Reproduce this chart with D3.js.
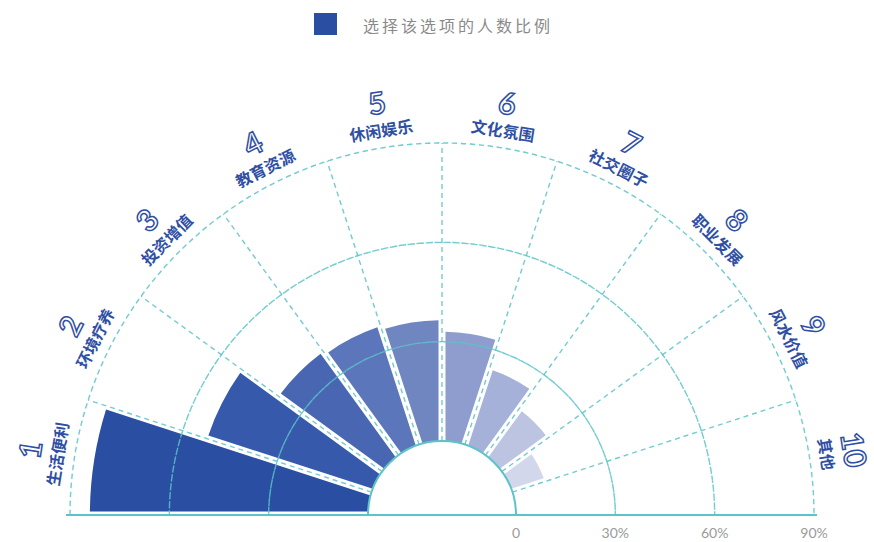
<!DOCTYPE html>
<html>
<head>
<meta charset="utf-8">
<script src="https://cdn.jsdelivr.net/npm/d3@7"></script>
<style>
  html, body { margin: 0; padding: 0; background: #ffffff; }
  svg { display: block; }
</style>
</head>
<body>
<svg id="chart" width="874" height="542"></svg>
<script>
const categories = ['生活便利', '环境疗养', '投资增值', '教育资源', '休闲娱乐', '文化氛围', '社交圈子', '职业发展', '风水价值', '其他'];
const categoryNumbers = ['1', '2', '3', '4', '5', '6', '7', '8', '9', '10'];
const values = [84, 52.2, 38.6, 37.6, 36.5, 33, 24, 17.2, 10.3, 0];
const barColors = ['#2a4ea2', '#3759ab', '#4866b2', '#5b76ba', '#7086c1', '#8e9dcd', '#a5b1d8', '#bcc4e2', '#d2d7eb', '#e4e7f2'];
const tickValues = [0, 30, 60, 90];
const tickLabels = ['0', '30%', '60%', '90%'];
const legendLabel = '选择该选项的人数比例';

const svg = d3.select('#chart');
const cx = 442, cy = 515;
const innerR = 74, outerR = 372;
const teal = '#5cc3c8';
const labelBlue = '#2f4fa3';

const angle = d3.scaleBand().domain(categories).range([-Math.PI / 2, Math.PI / 2]).padding(0);
const radius = d3.scaleLinear().domain([0, 90]).range([innerR, outerR]);

const g = svg.append('g').attr('transform', `translate(${cx},${cy})`);

// bars
const arc = d3.arc()
  .innerRadius(innerR)
  .outerRadius(d => radius(d.v))
  .startAngle(d => angle(d.c))
  .endAngle(d => angle(d.c) + angle.bandwidth())
  .padAngle(0.035)
  .padRadius(200);

const data = categories.map((c, i) => ({ c, v: values[i], color: barColors[i] }));
g.selectAll('path.bar').data(data.filter(d => d.v > 0)).join('path')
  .attr('class', 'bar')
  .attr('d', arc)
  .attr('fill', d => d.color);

// dashed grid circles (half)
const halfArc = d3.arc().startAngle(-Math.PI / 2).endAngle(Math.PI / 2);
tickValues.filter(t => t > 0).forEach(t => {
  g.append('path')
    .attr('d', halfArc({ innerRadius: radius(t), outerRadius: radius(t) }))
    .attr('fill', 'none')
    .attr('stroke', teal)
    .attr('stroke-width', 1.4)
    .attr('stroke-dasharray', '5,4')
    .attr('opacity', 0.85);
});

// radial dashed lines at category boundaries
const boundaries = categories.slice(1).map(c => angle(c));
g.selectAll('line.radial').data(boundaries).join('line')
  .attr('class', 'radial')
  .attr('x1', a => innerR * Math.sin(a))
  .attr('y1', a => -innerR * Math.cos(a))
  .attr('x2', a => radius(90) * Math.sin(a))
  .attr('y2', a => -radius(90) * Math.cos(a))
  .attr('stroke', teal)
  .attr('stroke-width', 1.4)
  .attr('stroke-dasharray', '5,4')
  .attr('opacity', 0.85);

// inner hole
g.append('path')
  .attr('d', d3.arc()({ innerRadius: 0, outerRadius: innerR, startAngle: -Math.PI / 2, endAngle: Math.PI / 2 }))
  .attr('fill', '#ffffff');
g.append('path')
  .attr('d', halfArc({ innerRadius: innerR, outerRadius: innerR }))
  .attr('fill', 'none')
  .attr('stroke', teal)
  .attr('stroke-width', 2);

// baseline
g.append('line')
  .attr('x1', -radius(90) - 4).attr('x2', radius(90) + 3)
  .attr('y1', 0).attr('y2', 0)
  .attr('stroke', teal)
  .attr('stroke-width', 2.2);

// tick labels
g.selectAll('text.tick').data(tickValues).join('text')
  .attr('class', 'tick')
  .attr('x', t => radius(t))
  .attr('y', 23)
  .attr('text-anchor', 'middle')
  .attr('font-family', 'Lato, "Open Sans", sans-serif')
  .attr('font-size', 14)
  .attr('fill', '#9a9a9a')
  .text((t, i) => tickLabels[i]);

// category labels
const mid = c => angle(c) + angle.bandwidth() / 2;
const textR = 390, numR = 418;
categories.forEach((c, i) => {
  const a = mid(c);
  const deg = a * 180 / Math.PI;
  g.append('text')
    .attr('transform', `translate(${textR * Math.sin(a)},${-textR * Math.cos(a)}) rotate(${deg})`)
    .attr('text-anchor', 'middle')
    .attr('dominant-baseline', 'central')
    .attr('font-family', '"Noto Sans CJK SC", sans-serif')
    .attr('font-weight', 'bold')
    .attr('font-size', 16)
    .attr('fill', labelBlue)
    .text(c);
  g.append('text')
    .attr('transform', `translate(${numR * Math.sin(a)},${-numR * Math.cos(a)}) rotate(${deg})`)
    .attr('text-anchor', 'middle')
    .attr('dominant-baseline', 'central')
    .attr('font-family', 'Lato, "Open Sans", sans-serif')
    .attr('font-weight', 'bold')
    .attr('font-size', 30)
    .attr('fill', '#ffffff')
    .attr('stroke', labelBlue)
    .attr('stroke-width', 1.5)
    .text(categoryNumbers[i]);
});

// legend
svg.append('rect')
  .attr('x', 314).attr('y', 13)
  .attr('width', 23).attr('height', 22)
  .attr('fill', barColors[0]);
svg.append('text')
  .attr('x', 363).attr('y', 25)
  .attr('dominant-baseline', 'central')
  .attr('font-family', '"Noto Sans CJK SC", sans-serif')
  .attr('font-size', 16)
  .attr('letter-spacing', 3)
  .attr('fill', '#8a8a8a')
  .text(legendLabel);
</script>
</body>
</html>
